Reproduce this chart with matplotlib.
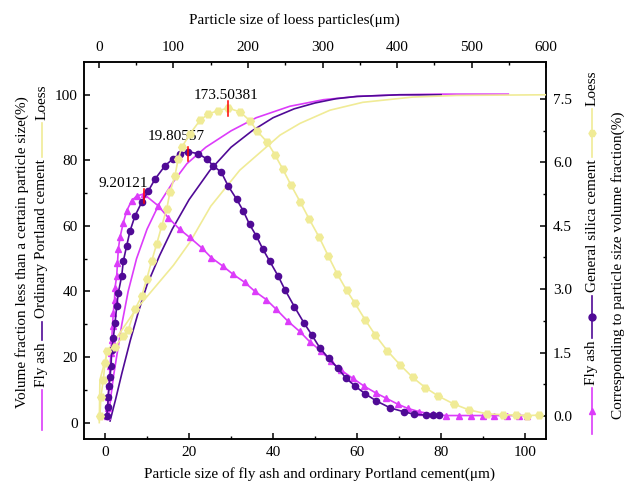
import numpy as np
import matplotlib.pyplot as plt
from matplotlib.lines import Line2D

plt.rcParams.update({
    "font.family": ["Liberation Serif", "DejaVu Serif"],
    "font.size": 11,
    "axes.linewidth": 1.1,
    "xtick.direction": "in",
    "ytick.direction": "in",
    "xtick.major.size": 4.5,
    "ytick.major.size": 4.5,
    "xtick.minor.size": 2.5,
    "ytick.minor.size": 2.5,
    "xtick.major.width": 1.1,
    "ytick.major.width": 1.1,
    "xtick.minor.width": 1.0,
    "ytick.minor.width": 1.0,
    "xtick.major.pad": 5,
    "ytick.major.pad": 4.5,
})

C_FA = "#DC3CFA"
C_OPC = "#500A96"
C_LOESS = "#F0EB96"
FS = 11

# fly ash: frequency (right axis) vs size (bottom axis, um)
fa_size = [0.40, 0.59, 0.71, 0.95, 1.07, 1.19, 1.43, 1.59, 1.78, 1.97, 2.26, 2.38,
           2.78, 2.97, 3.16, 3.56, 4.35, 5.15, 6.34, 7.53, 9.20, 12.66, 15.04,
           17.81, 20.19, 22.97, 25.34, 28.10, 30.47, 33.25, 35.63, 38.41, 40.78,
           43.54, 46.32, 48.69, 51.47, 53.85, 56.22, 58.98, 61.76, 64.54, 66.91,
           69.67, 72.04, 74.82, 77.98, 81.16, 84.32, 87.10, 89.86, 92.64, 95.80,
           98.57, 100.5]
fa_freq = [0.00, 0.18, 0.46, 0.70, 0.93, 1.17, 1.49, 1.80, 2.12, 2.44, 2.75, 3.03,
           3.31, 3.62, 3.94, 4.22, 4.57, 4.85, 5.09, 5.20, 5.25, 4.97, 4.69,
           4.41, 4.22, 3.98, 3.74, 3.54, 3.35, 3.16, 2.95, 2.75, 2.52,
           2.24, 2.00, 1.76, 1.53, 1.29, 1.08, 0.89, 0.70, 0.54, 0.42,
           0.28, 0.18, 0.10, 0.04, 0.01, 0.01, 0.01, 0.01, 0.01, 0.01,
           0.01, 0.01]

# ordinary Portland cement: frequency (right axis) vs size (bottom axis, um)
opc_size = [0.40, 0.64, 0.78, 0.95, 1.19, 1.43, 1.59, 1.97, 2.38, 2.78, 3.16, 3.97,
            4.35, 5.15, 5.94, 7.13, 8.72, 10.3, 11.9, 14.3, 16.2, 17.8, 19.8,
            22.2, 24.2, 25.7, 27.7, 29.3, 31.3, 32.9, 34.4, 36.0, 37.6, 39.2,
            41.2, 42.8, 45.1, 47.3, 49.2, 51.2, 53.2, 55.4, 57.4, 59.6, 62.0,
            64.5, 67.9, 71.1, 73.6, 76.4, 78.1, 79.6]
opc_freq = [0.00, 0.22, 0.46, 0.70, 0.93, 1.17, 1.57, 1.84, 2.20, 2.59, 2.91, 3.31,
            3.66, 4.02, 4.37, 4.73, 5.05, 5.32, 5.60, 5.92, 6.08, 6.20, 6.25,
            6.20, 6.08, 5.92, 5.76, 5.44, 5.13, 4.85, 4.53, 4.26, 3.94, 3.66,
            3.31, 2.99, 2.58, 2.21, 1.92, 1.60, 1.37, 1.13, 0.89, 0.70, 0.52,
            0.36, 0.19, 0.10, 0.04, 0.02, 0.02, 0.02]

# loess: frequency (right axis) vs size (top axis, um)
loess_size = [1.3, 2.7, 5.8, 8.1, 11.1, 21.5, 32.6, 39.3, 48.3, 57.3, 64.0, 70.7,
              77.4, 84.2, 90.9, 95.3, 102.0, 106.4, 111.0, 122.1, 135.6, 146.7,
              160.1, 173.5, 189.3, 202.7, 212.1, 225.5, 236.0, 246.6, 257.7,
              269.8, 282.3, 295.7, 307.8, 320.0, 332.4, 343.6, 357.0, 370.5,
              387.0, 404.0, 421.0, 438.0, 455.4, 476.5, 497.0, 521.0, 542.0,
              560.0, 575.0, 591.0]
loess_freq = [0.00, 0.46, 0.84, 1.25, 1.53, 1.64, 1.88, 2.04, 2.52, 2.83, 3.23, 3.66,
              4.06, 4.49, 4.89, 5.29, 5.68, 6.08, 6.35, 6.67, 6.99, 7.14,
              7.22, 7.28, 7.19, 6.98, 6.74, 6.48, 6.18, 5.84, 5.46,
              5.07, 4.65, 4.22, 3.78, 3.35, 2.97, 2.66, 2.28, 1.92,
              1.54, 1.21, 0.91, 0.67, 0.47, 0.28, 0.14, 0.05, 0.03,
              0.02, 0.01, 0.02]

# cumulative curves (left axis)
fa_cum_size = [0.7, 1.4, 2.0, 3.0, 4.0, 5.5, 7.5, 10, 13, 16, 19.5, 24, 30, 36, 44,
               52, 60, 70, 80, 96]
fa_cum = [1, 8, 14, 22, 30, 40, 50, 59, 67, 73, 79, 84, 89, 93, 96.5,
          98.5, 99.5, 100, 100.2, 100.2]
opc_cum_size = [1.2, 2.5, 4, 6, 8, 10, 13, 16, 20, 25, 30, 35, 40, 45, 50, 55, 60,
                70, 80]
opc_cum = [0.5, 7, 15, 25, 34, 42, 51, 59, 68, 77, 84, 89, 93, 95.7, 97.5, 98.8,
           99.5, 100, 100]
loess_cum_size = [0.5, 1.3, 12, 48, 100, 122, 150, 189, 243, 270, 310, 354, 421,
                  480, 600]
loess_cum = [0, 13, 22, 34, 48, 55, 66, 77, 87.7, 91.3, 95.3, 97.7, 99.3, 99.8, 100]

peaks = [("9.20121", 9.20121, 5.25), ("19.80557", 19.80557, 6.25)]
loess_peak = ("173.50381", 173.50381, 7.28)

fig = plt.figure(figsize=(6.27, 4.92), dpi=100)
pos = [0.134, 0.1077, 0.737, 0.7663]
XLIM, YLIM = (-5, 105), (-5, 110)
XLIM_T, YLIM_R = (-20, 600), (-0.545, 8.37)

ax = fig.add_axes(pos)
ax.set_xlim(*XLIM)
ax.set_ylim(*YLIM)
ax.plot(fa_cum_size, fa_cum, color=C_FA, lw=1.2, zorder=3)
ax.plot(opc_cum_size, opc_cum, color=C_OPC, lw=1.2, zorder=3)
ax.set_xticks(np.arange(0, 101, 20))
ax.set_xticks(np.arange(0, 101, 10), minor=True)
ax.set_yticks(np.arange(0, 101, 20))
ax.set_yticks(np.arange(0, 101, 10), minor=True)
ax.set_xlabel("Particle size of fly ash and ordinary Portland cement(\u03bcm)", fontsize=FS)
ax.set_ylabel("Volume fraction less than a certain particle size(%)", fontsize=FS)
ax.xaxis.set_label_coords(0.51, -0.075)
ax.yaxis.set_label_coords(-0.12, 0.497)
ax.tick_params(which="both", top=False, right=False)

# loess cumulative: top x, left y
axt = ax.twiny()
axt.set_xlim(*XLIM_T)
axt.set_ylim(*YLIM)
axt.plot(loess_cum_size, loess_cum, color=C_LOESS, lw=1.2, zorder=3)
axt.set_xticks(np.arange(0, 601, 100))
axt.set_xticks(np.arange(0, 601, 50), minor=True)
axt.tick_params(axis="x", which="major", pad=6)
axt.set_xlabel("Particle size of loess particles(\u03bcm)", fontsize=FS)
axt.xaxis.set_label_coords(0.455, 1.1)

# frequency curves: bottom x, right y
axr = fig.add_axes(pos, frameon=False)
axr.set_xlim(*XLIM)
axr.set_ylim(*YLIM_R)
axr.plot(fa_size, fa_freq, color=C_FA, lw=1.2, marker="^", ms=5, zorder=4)
axr.plot(opc_size, opc_freq, color=C_OPC, lw=1.2, marker="o", ms=4.5, zorder=4)
axr.xaxis.set_visible(False)
axr.yaxis.tick_right()
axr.yaxis.set_label_position("right")
axr.set_yticks(np.arange(0, 7.6, 1.5))
axr.set_yticks(np.arange(0, 7.6, 0.75), minor=True)
axr.tick_params(axis="y", which="major", pad=5)
axr.yaxis.set_major_formatter(plt.FormatStrFormatter("%.1f"))
axr.set_ylabel("Corresponding to particle size volume fraction(%)", fontsize=FS)
axr.yaxis.set_label_coords(1.14, 0.46)
for lab, xp, yp in peaks:
    axr.plot([xp, xp], [yp - 0.22, yp + 0.12], color="red", lw=1.1, zorder=6)
axr.text(10.3, 5.5, "9.20121", ha="right", va="center", fontsize=FS, zorder=7)
axr.text(16.9, 6.62, "19.80557", ha="center", va="center", fontsize=FS, zorder=7)

# loess frequency: top x, right y
axtr = fig.add_axes(pos, frameon=False)
axtr.set_xlim(*XLIM_T)
axtr.set_ylim(*YLIM_R)
axtr.plot(loess_size, loess_freq, color=C_LOESS, lw=1.2, marker="H", ms=5.5, zorder=4)
axtr.set_xticks([])
axtr.set_yticks([])
lab, xp, yp = loess_peak
axtr.plot([xp, xp], [yp - 0.18, yp + 0.16], color="red", lw=1.1, zorder=6)
axtr.text(170.5, 7.57, lab, ha="center", va="center", fontsize=FS, zorder=7)


def legend_column(x, y0, items):
    # stack rotated legend entries upward, starting at pixel row y0 (from top)
    fig.canvas.draw()
    r = fig.canvas.get_renderer()
    H = fig.get_figheight() * fig.dpi
    W = fig.get_figwidth() * fig.dpi
    y = y0
    for kind, val, extra in items:
        if kind == "line":
            color, marker, length = val, extra[0], extra[1]
            y1 = y - length
            fig.add_artist(Line2D([x / W, x / W], [1 - y / H, 1 - y1 / H], color=color,
                                  lw=1.2, transform=fig.transFigure))
            if marker:
                fig.add_artist(Line2D([x / W], [1 - (y + y1) / 2 / H], color=color,
                                      marker=marker, ms=5, transform=fig.transFigure))
            y = y1 - 3
        else:
            t = fig.text(x / W, 1 - y / H, val, rotation=90, ha="center", va="bottom",
                         fontsize=FS)
            y = y - t.get_window_extent(r).height - 3


legend_column(42, 430, [("line", C_FA, (None, 40)), ("text", "Fly ash", None),
                        ("line", C_OPC, (None, 18)), ("text", "Ordinary Portland cement", None),
                        ("line", C_LOESS, (None, 34)), ("text", "Loess", None)])
legend_column(592, 434, [("line", C_FA, ("^", 46)), ("text", "Fly ash", None),
                         ("line", C_OPC, ("o", 42)), ("text", "General silica cement", None),
                         ("line", C_LOESS, ("H", 48)), ("text", "Loess", None)])

fig.savefig("out.png", dpi=100)
